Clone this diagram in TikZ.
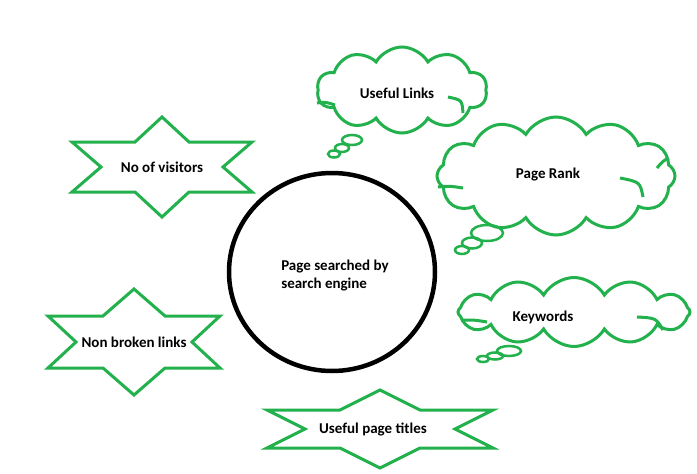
\documentclass[tikz,border=0pt]{standalone}
\usepackage{fontspec}
\setmainfont{Carlito}
\usetikzlibrary{shapes.symbols}
\definecolor{pgreen}{RGB}{34,177,76}
\newcommand\drawhexstar[7]{%
  \draw[greenline] ({#1-#3},{#2-#4}) -- ({#1-#6},{#2-#4}) -- (#1,{#2-#5}) -- ({#1+#6},{#2-#4}) -- ({#1+#3},{#2-#4}) -- ({#1+#7},#2) -- ({#1+#3},{#2+#4}) -- ({#1+#6},{#2+#4}) -- (#1,{#2+#5}) -- ({#1-#6},{#2+#4}) -- ({#1-#3},{#2+#4}) -- ({#1-#7},#2) -- cycle;}
\begin{document}
\begin{tikzpicture}[x=1pt,y=-1pt,
  greenline/.style={draw=pgreen,line width=3pt,line join=miter},
  lbl/.style={font=\bfseries\fontsize{15}{18}\selectfont,inner sep=0pt,align=left},
  cloudbox/.style={cloud,cloud puffs=11,cloud puff arc=120,cloud ignores aspect,draw=pgreen,line width=3pt,inner sep=0pt},
  bubble/.style={draw=pgreen,line width=2.5pt}]
\useasboundingbox (0,0) rectangle (697,474);
\fill[white] (0,0) rectangle (697,474);

% central circle
\draw[line width=4.5pt] (332,272) ellipse [x radius=103pt, y radius=99pt];
\node[lbl] (main) at (335,276) {Page searched by\\search engine};

% stars
\drawhexstar{162}{167}{90}{25}{50}{27}{61}
\node[lbl] (visitors) at (162,167) {No of visitors};
\drawhexstar{134}{342}{86}{26}{53}{31}{58}
\node[lbl] (broken) at (134,342) {Non broken links};
\drawhexstar{380}{429}{113}{19}{39}{40}{75}
\node[lbl] (titles) at (373,429) {Useful page titles};

% cloud 1
\node[cloudbox,cloud puffs=10,minimum width=170pt,minimum height=86pt] (c1) at (402,90) {};
\node[lbl] (links) at (397,93) {Useful Links};
\draw[bubble] (352,140) ellipse [x radius=10pt, y radius=5pt];
\draw[bubble] (342,148) ellipse [x radius=7pt, y radius=4pt];
\draw[bubble] (334,154) ellipse [x radius=6pt, y radius=3.5pt];
\draw[greenline] (448,97) .. controls (462,100) .. (463,113);
\draw[greenline] (317,103) .. controls (326,102) .. (335,105);

% cloud 2
\node[cloudbox,cloud puffs=12,minimum width=238pt,minimum height=118pt] (c2) at (556,176) {};
\node[lbl] (rank) at (548,175) {Page Rank};
\draw[bubble] (487,233) ellipse [x radius=16pt, y radius=8pt];
\draw[bubble] (472,243) ellipse [x radius=10pt, y radius=5.5pt];
\draw[bubble] (462,250) ellipse [x radius=7pt, y radius=4pt];
\draw[greenline] (620,178) .. controls (640,182) .. (643,197);
\draw[greenline] (438,187) .. controls (450,186) .. (463,188);
\draw[greenline] (668,158) .. controls (662,162) .. (657,168);

% cloud 3
\node[cloudbox,cloud puffs=12,minimum width=232pt,minimum height=69pt] (c3) at (574,312) {};
\node[lbl] (keywords) at (543,317) {Keywords};
\draw[bubble] (509,351) ellipse [x radius=12pt, y radius=5pt];
\draw[bubble] (495,356) ellipse [x radius=8pt, y radius=3.5pt];
\draw[bubble] (483,359) ellipse [x radius=6pt, y radius=3pt];
\draw[greenline] (637,317) .. controls (656,318) .. (663,330);
\draw[greenline] (463,320) .. controls (475,320) .. (487,322);
\end{tikzpicture}
\end{document}
